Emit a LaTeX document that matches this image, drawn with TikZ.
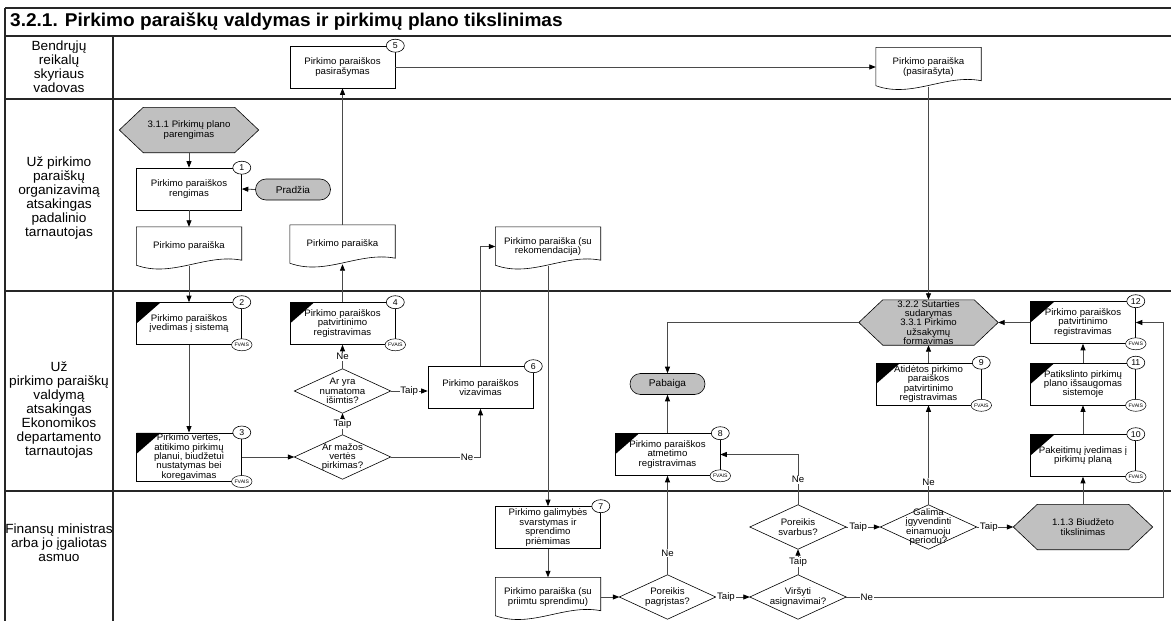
\documentclass[tikz,border=0pt]{standalone}
\usepackage{fontspec}
\setmainfont{Liberation Sans}[FakeStretch=1.03]
\usetikzlibrary{shapes.geometric,arrows.meta}
\pgfdeclarelayer{bg}
\pgfsetlayers{bg,main}
\definecolor{shade}{HTML}{C0C0C0}
\definecolor{connc}{HTML}{4A4A4A}
\newcommand\fsz[2]{\fontsize{#1}{#2}\selectfont}
\begin{document}
\begin{tikzpicture}[x=1pt,y=-1pt,
  frame/.style={line width=1.1pt, draw=black!85},
  box/.style={draw=black, line width=0.6pt, fill=white, inner sep=1pt, align=center,
    font=\fsz{9.4}{9.4}, minimum width=105pt, minimum height=42pt},
  vbox/.style={box, path picture={\fill[black] (path picture bounding box.north west)
    -- ++(24pt,0pt) -- ++(-24pt,-21pt) -- cycle;}},
  shp/.style={inner sep=0pt, align=center, font=\fsz{9.4}{9.4}},
  diam/.style={shp, minimum width=96pt, minimum height=44pt},
  hexa/.style={shp, minimum width=139pt, minimum height=45pt},
  docu/.style={shp, minimum width=105pt, minimum height=39pt},
  term/.style={draw=black, line width=0.6pt, fill=shade, rounded corners=10.5pt,
    minimum width=75pt, minimum height=21pt, inner sep=0pt, font=\fsz{9.8}{10}},
  num/.style={ellipse, draw=black, fill=white, line width=0.6pt, minimum width=18pt,
    minimum height=13pt, inner sep=0pt, font=\fsz{8.5}{8.5}},
  fva/.style={ellipse, draw=black, fill=white, line width=0.5pt, minimum width=17pt,
    minimum height=12pt, inner sep=0pt, font=\fsz{5}{5}},
  conn/.style={draw=connc, line width=0.8pt, -{Triangle[length=6.5pt,width=5pt,black]}},
  lab/.style={fill=white, inner sep=0.8pt, font=\fsz{9.4}{9.4}},
  lanelab/.style={align=center, font=\fsz{13.3}{14}}
]
\useasboundingbox (0,0) rectangle (1171,621);

% frame and lanes
\draw[frame] (5,8) -- (1171,8);
\draw[frame] (5,8) -- (5,621);
\draw[frame] (5,36) -- (1171,36);
\draw[frame] (5,99) -- (1171,99);
\draw[frame] (5,291) -- (1171,291);
\draw[frame] (5,491) -- (1171,491);
\draw[frame] (113,36) -- (113,621);

\node[anchor=west, inner sep=0pt, font=\fsz{18.5}{20}\bfseries] (title) at (10,22)
  {3.2.1. Pirkimo paraiškų valdymas ir pirkimų plano tikslinimas};

\node[lanelab] (l1) at (59,67) {Bendrųjų\\reikalų\\skyriaus\\vadovas};
\node[lanelab] (l2) at (59,198) {Už pirkimo\\paraiškų\\organizavimą\\atsakingas\\padalinio\\tarnautojas};
\node[lanelab] (l3) at (59,410) {Už\\pirkimo paraiškų\\valdymą\\atsakingas\\Ekonomikos\\departamento\\tarnautojas};
\node[lanelab] (l4) at (59,543) {Finansų ministras\\arba jo įgaliotas\\asmuo};

% lane 1
\node[box] (b5) at (342.5,67) {Pirkimo paraiškos\\pasirašymas};
\node[docu] (dsig) at (928.5,67) {Pirkimo paraiška\\(pasirašyta)};

% lane 2
\node[hexa] (h311) at (189,130) {3.1.1 Pirkimų plano\\parengimas};
\node[box] (b1) at (189,189) {Pirkimo paraiškos\\rengimas};
\node[term] (start) at (293,189.5) {Pradžia};
\node[docu] (d1) at (189,246.5) {Pirkimo paraiška};
\node[docu] (d2) at (342.5,244.5) {Pirkimo paraiška};
\node[docu] (d3) at (548,246.5) {Pirkimo paraiška (su\\rekomendacija)};

% lane 3
\node[vbox] (b2) at (189,323.5) {Pirkimo paraiškos\\įvedimas į sistemą};
\node[vbox] (b4) at (342.5,323.5) {Pirkimo paraiškos\\patvirtinimo\\registravimas};
\node[diam] (q1) at (342.5,391) {Ar yra\\numatoma\\išimtis?};
\node[diam] (q2) at (342.5,457) {Ar mažos\\vertės\\pirkimas?};
\node[vbox, minimum height=48pt] (b3) at (189,457) {Pirkimo vertės,\\atitikimo pirkimų\\planui, biudžetui\\nustatymas bei\\koregavimas};
\node[box] (b6) at (480.5,387.5) {Pirkimo paraiškos\\vizavimas};
\node[term] (pab) at (667.5,384) {Pabaiga};
\node[vbox] (b8) at (667.5,454.5) {Pirkimo paraiškos\\atmetimo\\registravimas};
\node[hexa] (h322) at (928.5,322.5) {3.2.2 Sutarties\\sudarymas\\3.3.1 Pirkimo\\užsakymų\\formavimas};
\node[vbox] (b9) at (928.5,384) {Atidėtos pirkimo\\paraiškos\\patvirtinimo\\registravimas};
\node[vbox] (b12) at (1083,322.5) {Pirkimo paraiškos\\patvirtinimo\\registravimas};
\node[vbox] (b11) at (1083,384) {Patikslinto pirkimų\\plano išsaugomas\\sistemoje};
\node[vbox] (b10) at (1083,455.5) {Pakeitimų įvedimas į\\pirkimų planą};

% lane 4
\node[box] (b7) at (548,527.5) {Pirkimo galimybės\\svarstymas ir\\sprendimo\\priėmimas};
\node[docu] (d4) at (548,597) {Pirkimo paraiška (su\\priimtu sprendimu)};
\node[diam] (q3) at (667.5,597) {Poreikis\\pagrįstas?};
\node[diam] (q4) at (798,597) {Viršyti\\asignavimai?};
\node[diam] (q5) at (798,527) {Poreikis\\svarbus?};
\node[diam] (q6) at (928.5,527) {Galima\\įgyvendinti\\einamuoju\\periodu?};
\node[hexa] (h113) at (1083,527) {1.1.3 Biudžeto\\tikslinimas};

% shapes drawn behind the texts
\begin{pgfonlayer}{bg}
  \foreach \nm in {q1,q2,q3,q4,q5,q6}
    \draw[line width=0.6pt, fill=white] (\nm.north) -- (\nm.east) -- (\nm.south) -- (\nm.west) -- cycle;
  \foreach \nm in {h311,h322,h113}
    \draw[line width=0.6pt, fill=shade] ([xshift=24pt]\nm.north west) -- ([xshift=-24pt]\nm.north east)
      -- (\nm.east) -- ([xshift=-24pt]\nm.south east) -- ([xshift=24pt]\nm.south west) -- (\nm.west) -- cycle;
  \foreach \nm in {d1,d2,d3,dsig,d4}
    \draw[line width=0.6pt, fill=white] (\nm.north west) -- (\nm.north east) -- ([yshift=6pt]\nm.south east)
      .. controls ([xshift=-36pt,yshift=13pt]\nm.south east) and ([xshift=36pt,yshift=-12pt]\nm.south west)
      .. ([yshift=1pt]\nm.south west) -- cycle;
\end{pgfonlayer}

% connectors
\draw[conn] (h311.south) -- (b1.north);
\draw[conn] (start.west) -- (b1.east);
\draw[conn] (b1.south) -- (d1.north);
\draw[conn] (d1.south) -- (b2.north);
\draw[conn] (b2.south) -- (b3.north);
\draw[conn] (b3.east) -- (q2.west);
\draw[conn] (q2.north) -- node[lab]{Taip} (q1.south);
\draw[conn] (q1.north) -- node[lab]{Ne} (b4.south);
\draw[conn] (q1.east) -- node[lab]{Taip} (q1.east -| b6.west);
\draw[conn] (q2.east) -- node[lab,pos=0.85]{Ne} (q2.east -| b6.south) -- (b6.south);
\draw[conn] (b4.north) -- (d2.south);
\draw[conn] (d2.north) -- (b5.south);
\draw[conn] (b5.east) -- (dsig.west);
\draw[conn] (dsig.south) -- (h322.north);
\draw[conn] (b6.north) |- (d3.west);
\draw[conn] (d3.south) -- (b7.north);
\draw[conn] (b7.south) -- (d4.north);
\draw[conn] (d4.east) -- (q3.west);
\draw[conn] (q3.north) -- node[lab,pos=0.22]{Ne} (b8.south);
\draw[conn] (q3.east) -- node[lab,pos=0.3]{Taip} (q4.west);
\draw[conn] (q4.north) -- node[lab]{Taip} (q5.south);
\draw[conn] (q5.north) -- node[lab]{Ne} (q5.north |- b8.east) -- (b8.east);
\draw[conn] (q5.east) -- node[lab,pos=0.35]{Taip} (q6.west);
\draw[conn] (q6.north) -- node[lab,pos=0.23]{Ne} (b9.south);
\draw[conn] (q6.east) -- node[lab,pos=0.33]{Taip} (h113.west);
\draw[conn] (h113.north) -- (b10.south);
\draw[conn] (b10.north) -- (b11.south);
\draw[conn] (b11.north) -- (b12.south);
\draw[conn] (b12.west) -- (h322.east);
\draw[conn] (b9.north) -- (h322.south);
\draw[conn] (h322.west) -| (pab.north);
\draw[conn] (b8.north) -- (pab.south);
\coordinate (rc) at (1163,322.5);
\draw[conn] (q4.east) -- node[lab,pos=0.065]{Ne} (q4.east -| rc) -- (rc) -- (b12.east);

% number and system markers
\node[num] (n1) at (b1.north east) {1};
\node[num] (n2) at (b2.north east) {2};
\node[num] (n3) at (b3.north east) {3};
\node[num] (n4) at (b4.north east) {4};
\node[num] (n5) at (b5.north east) {5};
\node[num] (n6) at (b6.north east) {6};
\node[num] (n7) at (b7.north east) {7};
\node[num] (n8) at (b8.north east) {8};
\node[num] (n9) at (b9.north east) {9};
\node[num] (n10) at (b10.north east) {10};
\node[num] (n11) at (b11.north east) {11};
\node[num] (n12) at (b12.north east) {12};
\foreach \nm in {2,3,4,8,9,10,11,12}
  \node[fva] (f\nm) at (b\nm.south east) {FVAIS};
\end{tikzpicture}
\end{document}
